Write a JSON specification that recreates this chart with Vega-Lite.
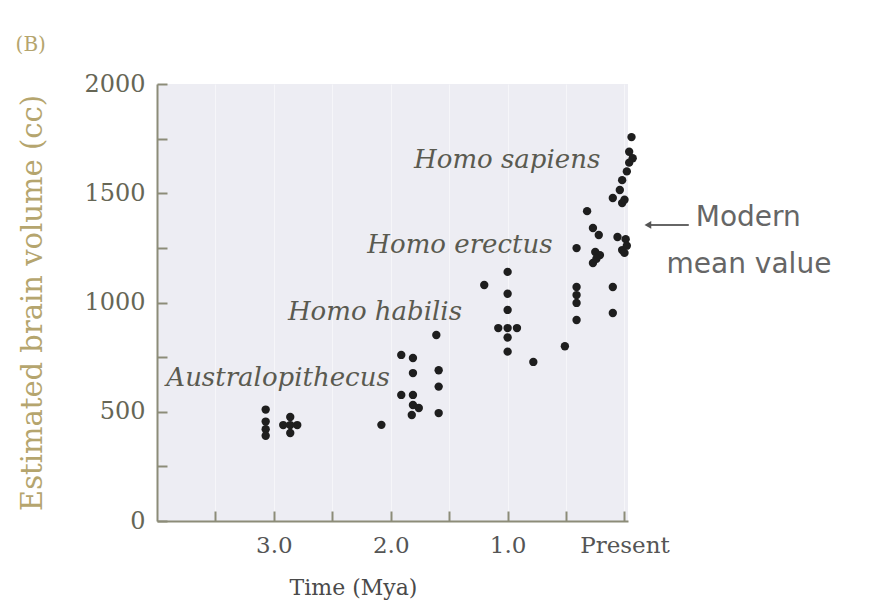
{
  "$schema": "https://vega.github.io/schema/vega-lite/v6.json",
  "width": 471,
  "height": 437,
  "autosize": {"type": "none"},
  "padding": {"left": 157, "top": 84, "right": 248, "bottom": 92},
  "background": "white",
  "config": {
    "view": {"fill": "#ededf3", "stroke": null},
    "font": "DejaVu Serif"
  },
  "datasets": {
    "points": [
      {"t": 3.07, "v": 510}, {"t": 3.07, "v": 455}, {"t": 3.07, "v": 420}, {"t": 3.07, "v": 390},
      {"t": 2.86, "v": 476}, {"t": 2.92, "v": 439}, {"t": 2.80, "v": 439}, {"t": 2.86, "v": 403}, {"t": 2.86, "v": 439},
      {"t": 2.08, "v": 440},
      {"t": 1.91, "v": 760}, {"t": 1.81, "v": 746}, {"t": 1.81, "v": 677}, {"t": 1.59, "v": 690}, {"t": 1.59, "v": 615}, {"t": 1.61, "v": 851},
      {"t": 1.91, "v": 577}, {"t": 1.81, "v": 577}, {"t": 1.81, "v": 531}, {"t": 1.76, "v": 517}, {"t": 1.82, "v": 485}, {"t": 1.59, "v": 494},
      {"t": 1.20, "v": 1080},
      {"t": 1.00, "v": 1140}, {"t": 1.00, "v": 1040}, {"t": 1.00, "v": 966}, {"t": 1.00, "v": 883}, {"t": 1.00, "v": 840}, {"t": 1.00, "v": 775},
      {"t": 1.08, "v": 883}, {"t": 0.92, "v": 883},
      {"t": 0.78, "v": 728}, {"t": 0.51, "v": 800},
      {"t": 0.41, "v": 1249}, {"t": 0.41, "v": 1071}, {"t": 0.41, "v": 1034}, {"t": 0.41, "v": 998}, {"t": 0.41, "v": 920},
      {"t": 0.32, "v": 1418}, {"t": 0.27, "v": 1341}, {"t": 0.22, "v": 1309},
      {"t": 0.25, "v": 1231}, {"t": 0.21, "v": 1217}, {"t": 0.27, "v": 1181}, {"t": 0.24, "v": 1200},
      {"t": 0.10, "v": 1071}, {"t": 0.10, "v": 952},
      {"t": 0.06, "v": 1300}, {"t": 0.02, "v": 1240}, {"t": 0.00, "v": 1227},
      {"t": -0.06, "v": 1757}, {"t": -0.04, "v": 1690}, {"t": -0.07, "v": 1660}, {"t": -0.04, "v": 1640},
      {"t": -0.02, "v": 1600}, {"t": 0.02, "v": 1560}, {"t": 0.04, "v": 1515}, {"t": 0.10, "v": 1478},
      {"t": 0.02, "v": 1455}, {"t": 0.00, "v": 1470}, {"t": -0.01, "v": 1290}, {"t": -0.02, "v": 1260}
    ],
    "labels": [
      {"label": "Homo sapiens", "t": 1.80, "v": 1652},
      {"label": "Homo erectus", "t": 2.20, "v": 1263},
      {"label": "Homo habilis", "t": 2.88, "v": 957},
      {"label": "Australopithecus", "t": 3.92, "v": 654}
    ],
    "notes": [
      {"label": "Modern", "t": -0.61, "v": 1387},
      {"label": "mean value", "t": -0.36, "v": 1172}
    ],
    "panel": [
      {"label": "(B)", "t": 5.21, "v": 2178}
    ],
    "arrow": [
      {"t": -0.2, "t2": -0.55, "v": 1355}
    ]
  },
  "layer": [
    {
      "data": {"name": "points"},
      "mark": {"type": "circle", "size": 70, "color": "#1e1e1e", "opacity": 1, "clip": false},
      "encoding": {
        "x": {
          "field": "t", "type": "quantitative",
          "scale": {"domain": [-0.03, 4], "reverse": true, "nice": false, "zero": false},
          "axis": {
            "values": [3.5, 3, 2.5, 2, 1.5, 1, 0.5, 0],
            "labelExpr": "datum.value == 0 ? 'Present' : (datum.value % 1 == 0 ? format(datum.value, '.1f') : '')",
            "title": "Time (Mya)",
            "titleFont": "DejaVu Serif", "titleFontSize": 22, "titleFontWeight": "normal", "titleColor": "#4a4a4a",
            "titleX": 196, "titleY": 56, "titleAnchor": "middle",
            "labelFont": "DejaVu Serif", "labelFontSize": 23, "labelColor": "#555555",
            "labelPadding": 23, "labelFlush": false, "labelOverlap": false,
            "tickSize": -10, "tickColor": "#8c8c78", "tickWidth": 2,
            "domainColor": "#8c8c78", "domainWidth": 2,
            "grid": true, "gridColor": "#ffffff", "gridOpacity": 0.5
          }
        },
        "y": {
          "field": "v", "type": "quantitative",
          "scale": {"domain": [0, 2000], "nice": false},
          "axis": {
            "values": [0, 250, 500, 750, 1000, 1250, 1500, 1750, 2000],
            "labelExpr": "datum.value % 500 == 0 ? datum.label : ''",
            "format": "d",
            "title": "Estimated brain volume (cc)",
            "titleFont": "DejaVu Serif", "titleFontSize": 29, "titleFontWeight": "normal", "titleColor": "#b5a56e",
            "titlePadding": 36,
            "labelFont": "DejaVu Serif", "labelFontSize": 24, "labelColor": "#666655",
            "labelPadding": 22, "labelOverlap": false,
            "tickSize": -10, "tickColor": "#8c8c78", "tickWidth": 2,
            "domainColor": "#8c8c78", "domainWidth": 2,
            "grid": false
          }
        }
      }
    },
    {
      "data": {"name": "labels"},
      "mark": {"type": "text", "font": "DejaVu Serif", "fontStyle": "italic", "fontSize": 26, "color": "#5a5a50", "align": "left", "baseline": "middle", "clip": false},
      "encoding": {
        "x": {"field": "t", "type": "quantitative"},
        "y": {"field": "v", "type": "quantitative"},
        "text": {"field": "label"}
      }
    },
    {
      "data": {"name": "notes"},
      "mark": {"type": "text", "font": "DejaVu Sans", "fontSize": 28, "color": "#666666", "align": "left", "baseline": "middle", "clip": false},
      "encoding": {
        "x": {"field": "t", "type": "quantitative"},
        "y": {"field": "v", "type": "quantitative"},
        "text": {"field": "label"}
      }
    },
    {
      "data": {"name": "panel"},
      "mark": {"type": "text", "font": "DejaVu Serif", "fontSize": 20, "color": "#b5a56e", "align": "left", "baseline": "middle", "clip": false},
      "encoding": {
        "x": {"field": "t", "type": "quantitative"},
        "y": {"field": "v", "type": "quantitative"},
        "text": {"field": "label"}
      }
    },
    {
      "data": {"name": "arrow"},
      "mark": {"type": "rule", "color": "#666666", "strokeWidth": 2, "clip": false},
      "encoding": {
        "x": {"field": "t", "type": "quantitative"},
        "x2": {"field": "t2"},
        "y": {"field": "v", "type": "quantitative"}
      }
    },
    {
      "data": {"name": "arrow"},
      "mark": {"type": "point", "shape": "triangle-left", "filled": true, "size": 60, "color": "#555555", "opacity": 1, "clip": false},
      "encoding": {
        "x": {"field": "t", "type": "quantitative"},
        "y": {"field": "v", "type": "quantitative"}
      }
    }
  ]
}
